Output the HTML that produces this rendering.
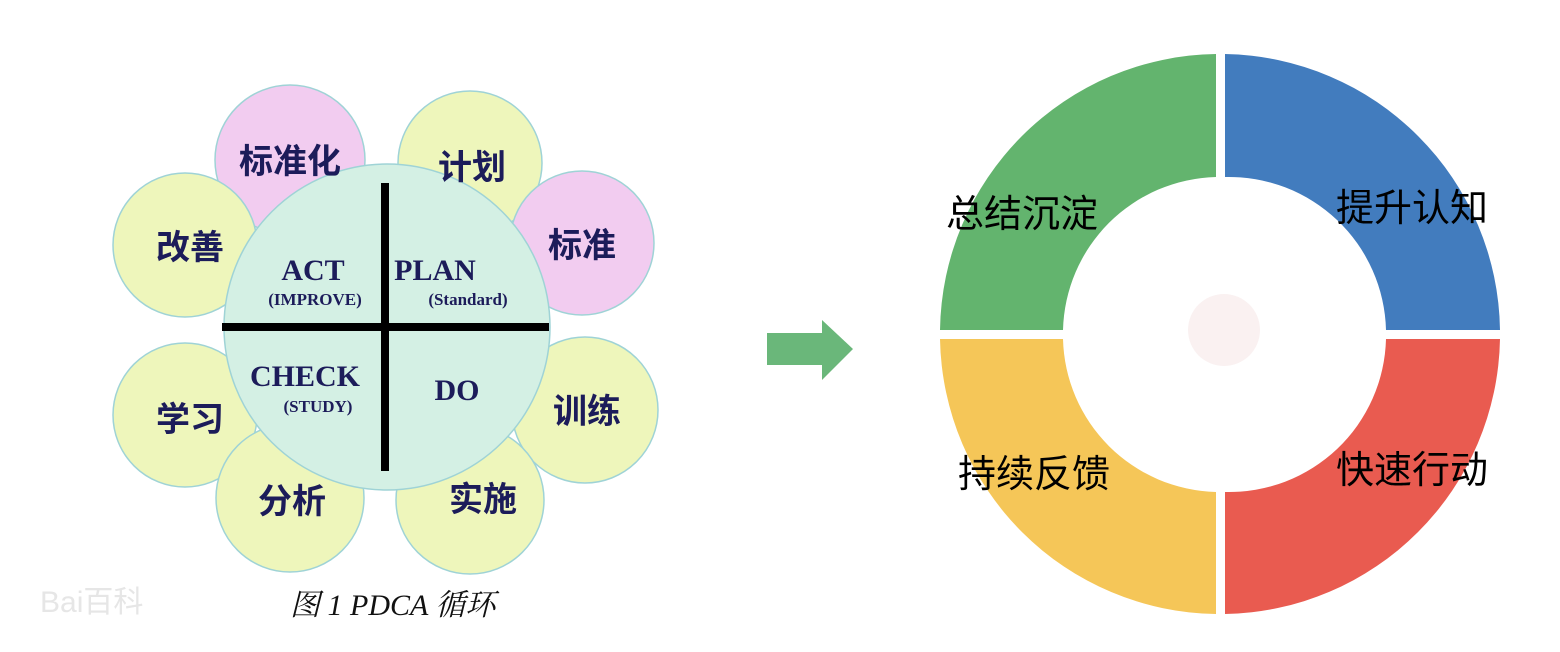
<!DOCTYPE html>
<html><head><meta charset="utf-8"><style>
html,body{margin:0;padding:0;background:#fff;width:1560px;height:652px;overflow:hidden}
.cj{font-family:"Liberation Sans","Noto Sans CJK SC",sans-serif}
.sf{font-family:"Liberation Serif","Noto Serif CJK SC",serif}
</style></head><body>
<svg width="1560" height="652" viewBox="0 0 1560 652" xmlns="http://www.w3.org/2000/svg">
<g stroke="#9fd3d6" stroke-width="1.5">
<circle cx="290" cy="160" r="75" fill="#f2ccf0"/>
<circle cx="470" cy="163" r="72" fill="#eef6bb"/>
<circle cx="185" cy="245" r="72" fill="#eef6bb"/>
<circle cx="582" cy="243" r="72" fill="#f2ccf0"/>
<circle cx="185" cy="415" r="72" fill="#eef6bb"/>
<circle cx="585" cy="410" r="73" fill="#eef6bb"/>
<circle cx="290" cy="498" r="74" fill="#eef6bb"/>
<circle cx="470" cy="500" r="74" fill="#eef6bb"/>
<circle cx="387" cy="327" r="163" fill="#d4f0e4"/>
</g>
<rect x="381" y="183" width="8" height="288" fill="#000"/>
<rect x="222" y="323" width="327" height="8" fill="#000"/>
<g fill="#1c1c5a" font-weight="bold" class="cj" font-size="34" text-anchor="middle">
<text x="290" y="173">标准化</text>
<text x="472" y="179">计划</text>
<text x="190" y="259">改善</text>
<text x="582" y="257">标准</text>
<text x="190" y="431">学习</text>
<text x="587" y="423">训练</text>
<text x="292" y="513">分析</text>
<text x="483" y="511">实施</text>
</g>
<g fill="#1c1c5a" font-weight="bold" text-anchor="middle" class="sf">
<text x="313" y="280" font-size="30">ACT</text>
<text x="315" y="305" font-size="17">(IMPROVE)</text>
<text x="435" y="280" font-size="30">PLAN</text>
<text x="468" y="305" font-size="17">(Standard)</text>
<text x="305" y="386" font-size="30">CHECK</text>
<text x="318" y="412" font-size="17">(STUDY)</text>
<text x="457" y="400" font-size="30">DO</text>
</g>
<text x="290" y="615" font-size="30" font-style="italic" fill="#111" class="sf">图 1 PDCA 循环</text>
<text x="40" y="612" font-size="30" fill="#e6e6e6" class="cj">Bai百科</text>
<polygon points="767,333 822,333 822,320 853,349 822,380 822,365 767,365" fill="#6ab77a"/>
<g>
<path d="M1216,54 A280,280 0 0 0 940,330 L1063,330 A157,157 0 0 1 1216,177 Z" fill="#63b46e"/>
<path d="M1225,54 A280,280 0 0 1 1500,330 L1386,330 A157,157 0 0 0 1225,177 Z" fill="#427cbe"/>
<path d="M1500,339 A280,280 0 0 1 1225,614 L1225,492 A157,157 0 0 0 1386,339 Z" fill="#e95b50"/>
<path d="M1216,614 A280,280 0 0 1 940,339 L1063,339 A157,157 0 0 0 1216,492 Z" fill="#f5c658"/>
<circle cx="1224" cy="330" r="36" fill="#faf1f1"/>
</g>
<g class="cj" font-size="38" fill="#000">
<text x="946" y="227">总结沉淀</text>
<text x="1336" y="221">提升认知</text>
<text x="958" y="487">持续反馈</text>
<text x="1336" y="483">快速行动</text>
</g>
</svg>
</body></html>
